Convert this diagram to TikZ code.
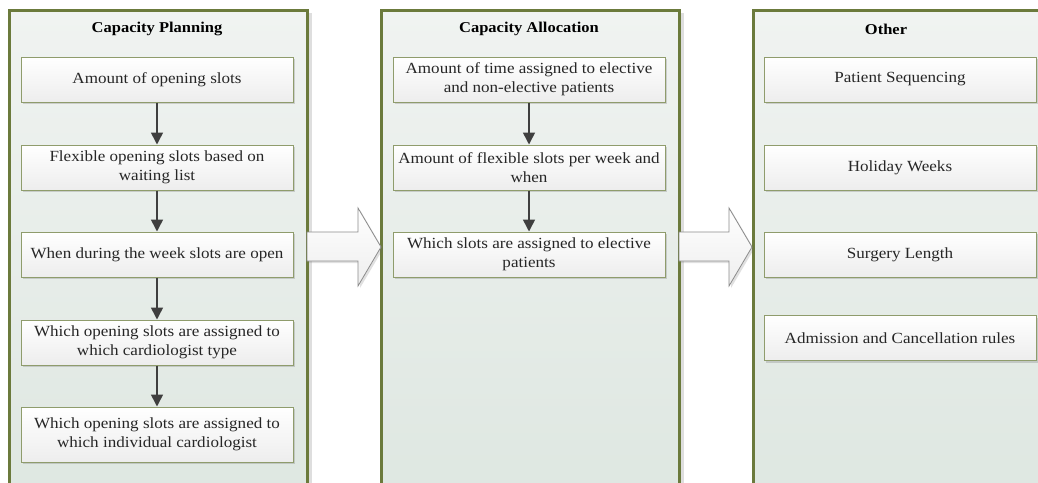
\documentclass[tikz,border=0pt]{standalone}
\usepackage{fontspec}
\setmainfont[FakeStretch=1.1]{Liberation Serif}
\usetikzlibrary{shadows,arrows.meta}

\definecolor{panelborder}{HTML}{6B7A3C}
\definecolor{paneltop}{HTML}{F0F3F1}
\definecolor{panelbot}{HTML}{DEE7E1}
\definecolor{boxborder}{HTML}{8F9C6C}
\definecolor{boxbot}{HTML}{EDEDED}
\definecolor{ink}{HTML}{262626}
\definecolor{flow}{HTML}{3F3F3F}
\definecolor{blockedge}{HTML}{8C8C8C}
\definecolor{blockbot}{HTML}{EEEEEE}

\tikzset{
  panel/.style={draw=panelborder, line width=3pt, top color=paneltop,
    bottom color=panelbot, minimum width=298pt, minimum height=490pt,
    anchor=north west, inner sep=0pt,
    drop shadow={shadow xshift=4pt, shadow yshift=-2pt, opacity=0.18, fill=black!70}},
  paneltitle/.style={font=\fontsize{15}{18}\selectfont\bfseries, text=black},
  stepbox/.style={draw=boxborder, line width=1pt, top color=white,
    bottom color=boxbot, minimum width=272pt, minimum height=45pt,
    align=center, inner sep=2pt, text=ink,
    font=\fontsize{15.5}{19}\selectfont,
    drop shadow={shadow xshift=2pt, shadow yshift=-2pt, opacity=0.25, fill=black!60}},
  flowarrow/.style={draw=flow, line width=1.6pt,
    -{Triangle[width=12pt,length=12pt]}},
  blockarrow/.style={draw=blockedge, line width=0.8pt, top color=white,
    bottom color=blockbot, line join=miter,
    drop shadow={shadow xshift=2pt, shadow yshift=-2pt, opacity=0.2, fill=black!60}}
}

\begin{document}
\begin{tikzpicture}[x=1pt,y=-1pt]
  \useasboundingbox[fill=white] (0,0) rectangle (1038,482);

  % the three columns
  \node[panel] (p1) at (8,9) {};
  \node[panel] (p2) at (380,9) {};
  \node[panel] (p3) at (752,9) {};

  % block arrows between the columns
  \path[blockarrow] (307,232) -- (358,232) -- (358,208) -- (381,247)
    -- (358,286) -- (358,261) -- (307,261) -- cycle;
  \path[blockarrow] (679,232) -- (729,232) -- (729,208) -- (752,247)
    -- (729,286) -- (729,261) -- (679,261) -- cycle;

  % column titles
  \node[paneltitle] (t1) at (157,29) {Capacity Planning};
  \node[paneltitle] (t2) at (529,29) {Capacity Allocation};
  \node[paneltitle] (t3) at (886,29) {Other};

  % capacity planning
  \node[stepbox] (a1) at (157,79.5) {Amount of opening slots};
  \node[stepbox] (a2) at (157,167.5) {Flexible opening slots based on\\waiting list};
  \node[stepbox] (a3) at (157,254.5) {When during the week slots are open};
  \node[stepbox] (a4) at (157,342.5) {Which opening slots are assigned to\\which cardiologist type};
  \node[stepbox, minimum height=55pt] (a5) at (157,434.5) {Which opening slots are assigned to\\which individual cardiologist};

  % capacity allocation
  \node[stepbox] (b1) at (529,79.5) {Amount of time assigned to elective\\and non-elective patients};
  \node[stepbox] (b2) at (529,167.5) {Amount of flexible slots per week and\\when};
  \node[stepbox] (b3) at (529,254.5) {Which slots are assigned to elective\\patients};

  % other
  \node[stepbox] (c1) at (900,79.5) {Patient Sequencing};
  \node[stepbox] (c2) at (900,167.5) {Holiday Weeks};
  \node[stepbox] (c3) at (900,254.5) {Surgery Length};
  \node[stepbox] (c4) at (900,338) {Admission and Cancellation rules};

  % flow inside the columns
  \draw[flowarrow] (a1) -- (a2);
  \draw[flowarrow] (a2) -- (a3);
  \draw[flowarrow] (a3) -- (a4);
  \draw[flowarrow] (a4) -- (a5);
  \draw[flowarrow] (b1) -- (b2);
  \draw[flowarrow] (b2) -- (b3);
\end{tikzpicture}
\end{document}
